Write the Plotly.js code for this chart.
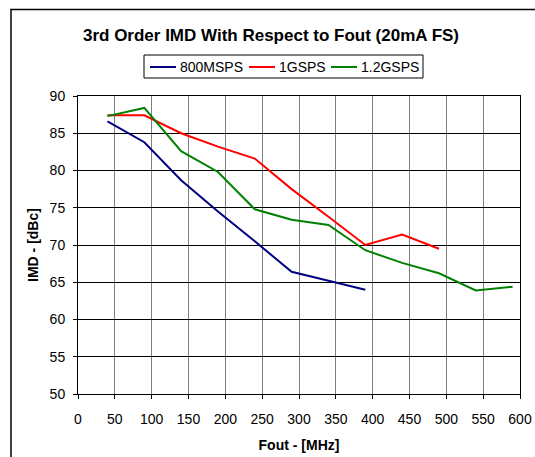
<!DOCTYPE html>
<html>
<head>
<meta charset="utf-8">
<script src="https://cdn.plot.ly/plotly-3.0.1.min.js"></script>
<style>
html,body{margin:0;padding:0;background:#fff;}
#chart{width:535px;height:457px;}
</style>
</head>
<body>
<div id="chart"></div>
<script>
const foutMHz = [40, 90, 140, 190, 240, 290, 340, 390, 440, 490, 540, 590];
const imd800MSPS = [86.6, 83.8, 78.7, 74.5, 70.5, 66.4, 65.2, 64.0];
const imd1GSPS = [87.4, 87.4, 85.0, 83.2, 81.6, 77.5, 73.8, 70.0, 71.4, 69.5];
const imd1_2GSPS = [87.3, 88.4, 82.6, 79.8, 74.8, 73.4, 72.7, 69.3, 67.6, 66.2, 63.9, 64.4];
const seriesNames = ["800MSPS", "1GSPS", "1.2GSPS"];
const xTicks = [0, 50, 100, 150, 200, 250, 300, 350, 400, 450, 500, 550, 600];
const yTicks = [50, 55, 60, 65, 70, 75, 80, 85, 90];

const colors = ["#000080", "#FF0000", "#008000"];
const seriesData = [imd800MSPS, imd1GSPS, imd1_2GSPS];

const traces = seriesData.map((ys, i) => ({
  x: foutMHz.slice(0, ys.length),
  y: ys,
  name: seriesNames[i],
  type: "scatter",
  mode: "lines",
  line: {color: colors[i], width: 2},
  showlegend: false
}));

const L = 78, R = 15, T = 96, B = 63;
const W = 535, H = 457;
const pw = W - L - R, ph = H - T - B;
const px = v => (v - L) / pw;          // pixel x -> paper
const py = v => (H - B - v) / ph;      // pixel y -> paper

// custom legend (box, line samples, labels)
const legBox = {x0: 144, x1: 423, y0: 55, y1: 78};
const legY = 67;
const legLineStart = [150, 249, 331];
const legLineLen = 26;

const shapes = [{
  type: "rect", xref: "paper", yref: "paper",
  x0: px(11), x1: px(560), y0: py(480), y1: py(9.5),
  line: {color: "#000", width: 1.5},
  fillcolor: "rgba(0,0,0,0)", layer: "below"
}, {
  type: "rect", xref: "paper", yref: "paper",
  x0: px(legBox.x0), x1: px(legBox.x1), y0: py(legBox.y1), y1: py(legBox.y0),
  line: {color: "#000", width: 1}, fillcolor: "#fff", layer: "above"
}];
const annotations = [];
seriesNames.forEach((name, i) => {
  const s = legLineStart[i];
  shapes.push({
    type: "line", xref: "paper", yref: "paper",
    x0: px(s), x1: px(s + legLineLen), y0: py(legY), y1: py(legY),
    line: {color: colors[i], width: 2}, layer: "above"
  });
  annotations.push({
    xref: "paper", yref: "paper",
    x: px(s + legLineLen + 2), y: py(legY),
    xanchor: "left", yanchor: "middle",
    text: name, showarrow: false,
    font: {size: 14, color: "#000"}
  });
});

const layout = {
  width: W, height: H,
  margin: {l: L, r: R, t: T, b: B, pad: 0},
  paper_bgcolor: "#ffffff",
  plot_bgcolor: "#ffffff",
  font: {family: "Arial, 'Liberation Sans', sans-serif", size: 14, color: "#000"},
  title: {
    text: "<b>3rd Order IMD With Respect to Fout (20mA FS)</b>",
    font: {size: 17, color: "#000"},
    x: 271 / W, xanchor: "center",
    y: 1 - 35 / H, yanchor: "middle"
  },
  showlegend: false,
  xaxis: {
    range: [0, 600],
    tickvals: xTicks,
    ticktext: xTicks.map(String),
    showgrid: true, gridcolor: "#808080", gridwidth: 1,
    zeroline: false,
    showline: true, linecolor: "#000", linewidth: 1, mirror: true,
    ticks: "outside", ticklen: 4, tickcolor: "#000",
    ticklabelstandoff: 8,
    tickfont: {size: 14},
    title: {text: "<b>Fout - [MHz]</b>", font: {size: 14}, standoff: 14},
    fixedrange: true
  },
  yaxis: {
    range: [50, 90],
    tickvals: yTicks,
    ticktext: yTicks.map(String),
    showgrid: true, gridcolor: "#000", gridwidth: 1,
    zeroline: false,
    showline: true, linecolor: "#000", linewidth: 1, mirror: true,
    ticks: "outside", ticklen: 4, tickcolor: "#000",
    ticklabelstandoff: 5,
    tickfont: {size: 14},
    title: {text: "<b>IMD - [dBc]</b>", font: {size: 14}, standoff: 7},
    fixedrange: true
  },
  shapes: shapes,
  annotations: annotations
};

Plotly.newPlot("chart", traces, layout, {displayModeBar: false, staticPlot: true});
</script>
</body>
</html>
